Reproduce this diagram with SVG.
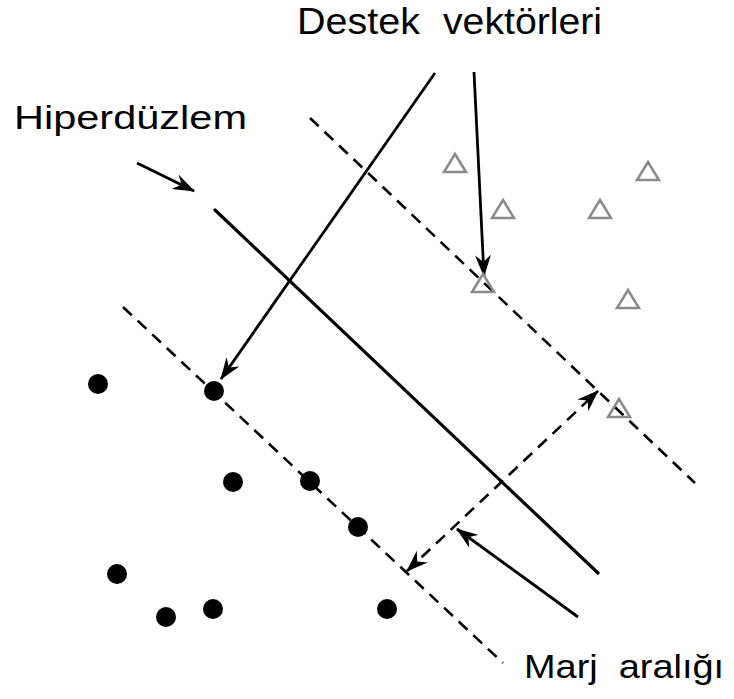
<svg xmlns="http://www.w3.org/2000/svg" width="734" height="699" viewBox="0 0 734 699">
<style>
.lbl{font-family:"Liberation Sans",Arial,sans-serif;fill:#000}
.solid{stroke:#000;stroke-width:3.2;fill:none;stroke-linecap:round}
.dash{stroke:#000;stroke-width:2.6;fill:none;stroke-dasharray:12 8}
.arr{stroke:#000;stroke-width:2.8;fill:none}
.tri{fill:none;stroke:#8a8a8a;stroke-width:2.5}
.dot{fill:#000}
</style>
<defs>
<marker id="ah" viewBox="0 0 22 16" refX="21" refY="8" markerWidth="22" markerHeight="16" markerUnits="userSpaceOnUse" orient="auto-start-reverse">
<path d="M0,0 L22,8 L0,16 L7,8 Z" fill="#000"/>
</marker>
</defs>
<rect width="734" height="699" fill="#fff"/>
<g id="connectors">
<line id="hyperplane" class="solid" x1="215" y1="210" x2="598" y2="573"/>
<line id="margin-upper" class="dash" x1="310" y1="118" x2="695" y2="483"/>
<line id="margin-lower" class="dash" x1="123" y1="307" x2="503" y2="663"/>
<line class="arr" x1="435" y1="73" x2="221" y2="379" marker-end="url(#ah)"/>
<line class="arr" x1="474" y1="72" x2="484" y2="276" marker-end="url(#ah)"/>
<line class="arr" x1="137" y1="163" x2="194" y2="191" marker-end="url(#ah)"/>
<line class="dash" x1="407" y1="571" x2="598" y2="391" marker-start="url(#ah)" marker-end="url(#ah)"/>
<line class="arr" x1="578" y1="617" x2="457" y2="529" marker-end="url(#ah)"/>
</g>
<g id="triangles">
<path class="tri" d="M455,154 L466,172 L444,172 Z"/>
<path class="tri" d="M503,200 L514,218 L492,218 Z"/>
<path class="tri" d="M600,200 L611,218 L589,218 Z"/>
<path class="tri" d="M648,162 L659,180 L637,180 Z"/>
<path class="tri" d="M628,290 L639,308 L617,308 Z"/>
<path class="tri" d="M483,274 L494,292 L472,292 Z"/>
<path class="tri" d="M619,399 L630,417 L608,417 Z"/>
</g>
<g id="dots">
<circle class="dot" cx="98" cy="384" r="10"/>
<circle class="dot" cx="214" cy="391" r="10"/>
<circle class="dot" cx="233" cy="482" r="10"/>
<circle class="dot" cx="310" cy="481" r="10"/>
<circle class="dot" cx="358" cy="527" r="10"/>
<circle class="dot" cx="117" cy="574" r="10"/>
<circle class="dot" cx="166" cy="617" r="10"/>
<circle class="dot" cx="213" cy="609" r="10"/>
<circle class="dot" cx="387" cy="609" r="10"/>
</g>
<g id="label-destek">
<text class="lbl" x="297" y="34" font-size="36" textLength="123" lengthAdjust="spacingAndGlyphs">Destek</text>
<text class="lbl" x="443" y="34" font-size="36" textLength="159" lengthAdjust="spacingAndGlyphs">vektörleri</text>
</g>
<g id="label-hiper"><text class="lbl" x="14" y="129" font-size="34" textLength="233" lengthAdjust="spacingAndGlyphs">Hiperdüzlem</text></g>
<g id="label-marj"><text class="lbl" x="524" y="678" font-size="33" textLength="200" lengthAdjust="spacingAndGlyphs" xml:space="preserve">Marj  aralığı</text></g>
</svg>
